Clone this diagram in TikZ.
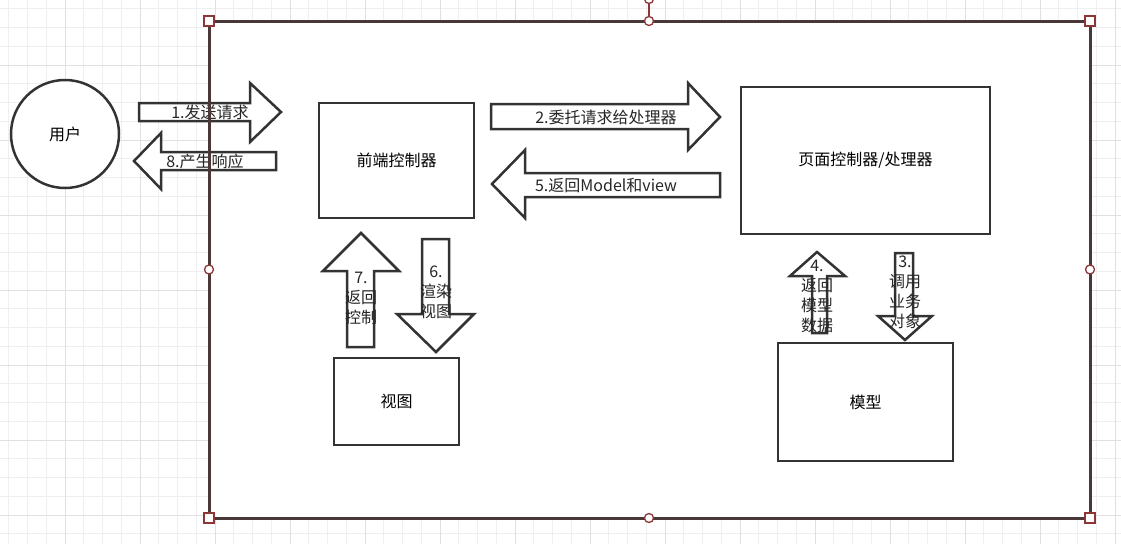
\documentclass[tikz,border=0pt]{standalone}
\usepackage{fontspec}
\setmainfont{Noto Sans CJK SC}
\usepackage{tikz}
\definecolor{linegray}{HTML}{333333}
\definecolor{framebrown}{HTML}{4A3838}
\definecolor{handlered}{HTML}{8E3535}
\definecolor{gridminor}{HTML}{EFEFEF}
\definecolor{gridmajor}{HTML}{E0E0E0}
\tikzset{
  block/.style = {draw=linegray, line width=2.5pt, fill=white, align=center},
  bigarrow/.style = {draw=linegray, line width=2.5pt, fill=white, line join=miter},
  label/.style = {text=black!85, align=center, inner sep=0pt},
  handlebox/.style = {draw=handlered, line width=1.3pt, fill=white, minimum size=10pt, inner sep=0pt},
  handledot/.style = {draw=handlered, line width=1.3pt, fill=white, circle, minimum size=9pt, inner sep=0pt}
}

\begin{document}
\begin{tikzpicture}[x=1pt, y=-1pt, font=\fontsize{16}{20}\selectfont]
\useasboundingbox (0,0) rectangle (1121,544);
% grid
\fill[white] (0,0) rectangle (1121,544);
\foreach \k in {0,...,59} \draw[gridminor, line width=1pt] (8.75+18.75*\k,0) -- (8.75+18.75*\k,544);
\foreach \k in {0,...,28} \draw[gridminor, line width=1pt] (0,8.75+18.75*\k) -- (1121,8.75+18.75*\k);
\foreach \k in {0,...,14} \draw[gridmajor, line width=1pt] (65+75*\k,0) -- (65+75*\k,544);
\foreach \k in {0,...,6} \draw[gridmajor, line width=1pt] (0,65+75*\k) -- (1121,65+75*\k);
% selected frame (white inside)
\fill[white] (209,21) rectangle (1090,518);

% user
\node[block, circle, minimum size=108pt] (user) at (65,134) {用户};
% boxes
\node[block, minimum width=155pt, minimum height=115pt] (front) at (396.5,160.5) {前端控制器};
\node[block, minimum width=249pt, minimum height=147pt] (handler) at (865.5,160.5) {页面控制器/处理器};
\node[block, minimum width=125pt, minimum height=87pt] (view) at (396.5,401.5) {视图};
\node[block, minimum width=175pt, minimum height=118pt] (model) at (865.5,402) {模型};

% block arrows
\draw[bigarrow] (139,103) -- (250,103) -- (250,83) -- (281,112) -- (250,142) -- (250,121) -- (139,121) -- cycle;
\node[label] (req) at (210,112) {1.发送请求};
\draw[bigarrow] (276,152) -- (161,152) -- (161,133) -- (134,161) -- (161,189) -- (161,170) -- (276,170) -- cycle;
\node[label] (resp) at (205,161) {8.产生响应};
\draw[bigarrow] (491,104) -- (688,104) -- (688,83) -- (720,117) -- (688,150) -- (688,129) -- (491,129) -- cycle;
\node[label] (delegate) at (606,117) {2.委托请求给处理器};
\draw[bigarrow] (720,173) -- (525,173) -- (525,150) -- (492,184) -- (525,218) -- (525,197) -- (720,197) -- cycle;
\node[label] (mv) at (606,185) {5.返回Model和view};
\draw[bigarrow] (347,347) -- (347,271) -- (323,271) -- (361,233) -- (399,271) -- (374,271) -- (374,347) -- cycle;
\node[label] (ctrl) at (361,298) {7.\\返回\\控制};
\draw[bigarrow] (422,239) -- (449,239) -- (449,314) -- (474,314) -- (436,352) -- (397,314) -- (422,314) -- cycle;
\node[label] (render) at (436,292) {6.\\渲染\\视图};
\draw[bigarrow] (812,333) -- (812,276) -- (790,276) -- (817,252) -- (845,276) -- (827,276) -- (827,333) -- cycle;
\node[label] (data) at (817,296) {4.\\返回\\模型\\数据};
\draw[bigarrow] (895,253) -- (913,253) -- (913,316) -- (932,316) -- (905,340) -- (878,316) -- (895,316) -- cycle;
\node[label] (call) at (905,292) {3.\\调用\\业务\\对象};

% frame border and handles on top
\draw[framebrown, line width=3pt] (209,21) rectangle (1090,518);
\coordinate (rot) at (649,-1);
\node[handledot] (top) at (649,21) {};
\draw[handlered, line width=1.3pt] (top) -- (rot);
\node[handledot] (rothandle) at (rot) {};
\node[handledot] (left) at (209,269.5) {};
\node[handledot] (right) at (1090,269.5) {};
\node[handledot] (bottom) at (649,518) {};
\node[handlebox] (nw) at (209,21) {};
\node[handlebox] (ne) at (1090,21) {};
\node[handlebox] (sw) at (209,518) {};
\node[handlebox] (se) at (1090,518) {};
\end{tikzpicture}
\end{document}
